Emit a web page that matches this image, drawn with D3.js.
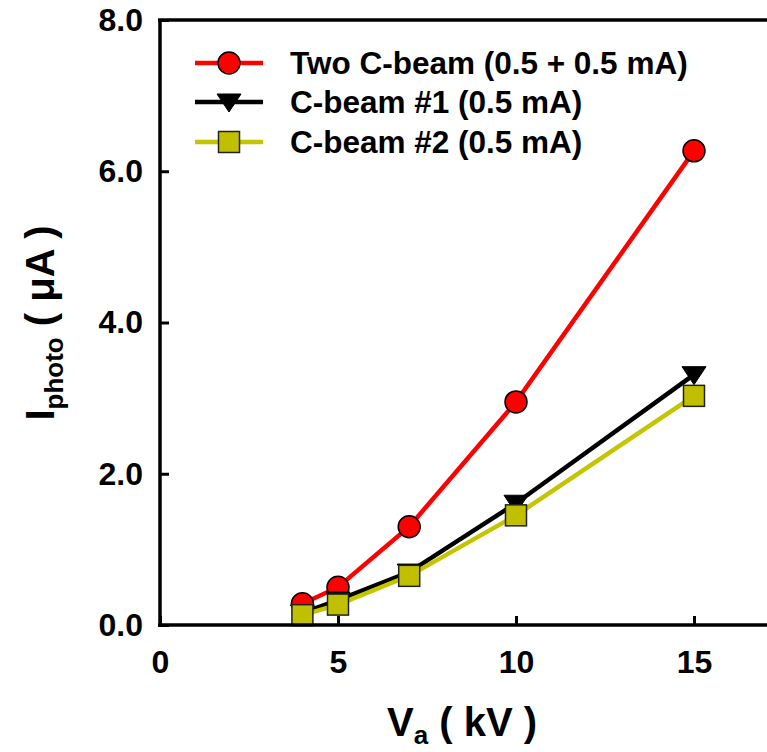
<!DOCTYPE html>
<html><head><meta charset="utf-8">
<script src="https://cdn.jsdelivr.net/npm/d3@7"></script>
<style>body{margin:0;background:#fff}svg{display:block}</style>
</head><body>
<svg id="c" width="767" height="752"></svg>
<script>
const voltages = [4, 5, 7, 10, 15];
const twoBeam = [0.28, 0.50, 1.30, 2.95, 6.27];
const beam1 = [0.16, 0.33, 0.70, 1.61, 3.31];
const beam2 = [0.13, 0.27, 0.65, 1.45, 3.03];
const xTicks = [0, 5, 10, 15];
const yTicks = [0, 2, 4, 6, 8];
const seriesNames = ["Two C-beam (0.5 + 0.5 mA)", "C-beam #1 (0.5 mA)", "C-beam #2 (0.5 mA)"];

const svg = d3.select("#c");
const x = d3.scaleLinear().domain([0, 17.5]).range([160, 783]);
const y = d3.scaleLinear().domain([0, 8]).range([625, 20]);
const font = "'Liberation Sans', Arial, sans-serif";

const series = [
  {name: seriesNames[0], vals: twoBeam, color: "#ff0000", fill: "#ff0000", shape: "circle"},
  {name: seriesNames[1], vals: beam1, color: "#000000", fill: "#000000", shape: "tri"},
  {name: seriesNames[2], vals: beam2, color: "#c4c400", fill: "#c0c000", shape: "square"}
];

function marker(g, shape, cx, cy, fill) {
  if (shape === "circle") g.append("circle").attr("cx", cx).attr("cy", cy).attr("r", 11).attr("fill", fill).attr("stroke", "#000").attr("stroke-width", 1.5);
  else if (shape === "square") g.append("rect").attr("x", cx - 10.5).attr("y", cy - 10.5).attr("width", 21).attr("height", 21).attr("fill", fill).attr("stroke", "#222").attr("stroke-width", 1.5);
  else g.append("path").attr("d", `M${cx-12},${cy-8}L${cx+12},${cy-8}L${cx},${cy+10}Z`).attr("fill", fill).attr("stroke", "#000").attr("stroke-width", 1);
}

series.forEach(s => {
  const line = d3.line().x((d, i) => x(voltages[i])).y(d => y(d));
  svg.append("path").datum(s.vals).attr("d", line).attr("fill", "none").attr("stroke", s.color).attr("stroke-width", 4.5);
});
series.forEach(s => {
  const g = svg.append("g");
  s.vals.forEach((v, i) => marker(g, s.shape, x(voltages[i]), y(v), s.fill));
});

// axes
const xAxis = d3.axisBottom(x).tickValues(xTicks).tickSize(-9).tickPadding(25).tickFormat(d3.format("d"));
const gx = svg.append("g").attr("transform", "translate(0,625)").call(xAxis);
const yAxis = d3.axisLeft(y).tickValues(yTicks).tickSize(-9).tickPadding(17).tickFormat(d3.format(".1f"));
const gy = svg.append("g").attr("transform", "translate(160,0)").call(yAxis);
[gx, gy].forEach(g => {
  g.select(".domain").attr("stroke", "#000").attr("stroke-width", 3.5);
  g.selectAll(".tick line").attr("stroke", "#000").attr("stroke-width", 3);
  g.selectAll(".tick text").attr("font-family", font).attr("font-weight", "bold").attr("font-size", 32).attr("fill", "#000");
});
gx.select(".domain").attr("d", "M158,0H783");
gy.select(".domain").attr("d", "M0,627V20");
// top frame
svg.append("line").attr("x1", 158).attr("x2", 783).attr("y1", 20).attr("y2", 20).attr("stroke", "#000").attr("stroke-width", 3.5);

// legend
const legY = [63, 102, 142];
series.forEach((s, i) => {
  const g = svg.append("g");
  g.append("line").attr("x1", 195).attr("x2", 263).attr("y1", legY[i]).attr("y2", legY[i]).attr("stroke", s.color).attr("stroke-width", 4.5);
  marker(g, s.shape, 229, legY[i], s.fill);
  g.append("text").attr("x", 290).attr("y", legY[i] + 11).attr("font-family", font).attr("font-weight", "bold").attr("font-size", 31.5).text(s.name);
});

// axis titles
const xt = svg.append("text").attr("x", 462).attr("y", 736).attr("text-anchor", "middle").attr("font-family", font).attr("font-weight", "bold").attr("font-size", 40);
xt.append("tspan").text("V");
xt.append("tspan").attr("font-size", 26).attr("dy", 8).text("a");
xt.append("tspan").attr("dy", -8).text(" ( kV )");

const yt = svg.append("text").attr("transform", "translate(54,323) rotate(-90)").attr("text-anchor", "middle").attr("font-family", font).attr("font-weight", "bold").attr("font-size", 40);
yt.append("tspan").text("I");
yt.append("tspan").attr("font-size", 26).attr("dy", 9).text("photo");
yt.append("tspan").attr("dy", -9).text(" ( μA )");
</script>
</body></html>
